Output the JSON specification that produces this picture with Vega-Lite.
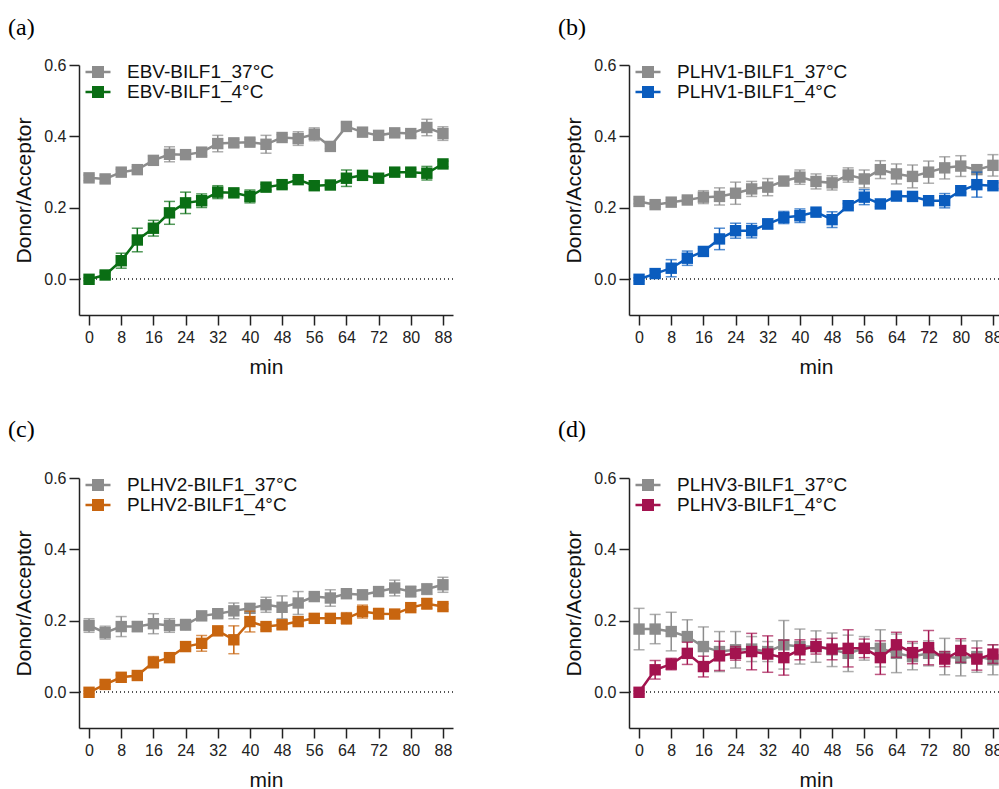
{
"$schema": "https://vega.github.io/schema/vega-lite/v6.json",
"padding": {"left": 8, "top": 16, "right": 0, "bottom": 0},
"background": "white",
"config": {
  "view": {"stroke": null},
  "axis": {"grid": false, "domainColor": "#222", "domainWidth": 1.5, "tickColor": "#222", "tickWidth": 1.5, "tickSize": 10,
    "labelFont": "Liberation Sans", "labelFontSize": 16, "labelColor": "#222", "labelFlush": false, "labelOverlap": false,
    "titleFont": "Liberation Sans", "titleFontSize": 21, "titleFontWeight": "normal", "titleColor": "#111"},
  "legend": {"labelLimit": 400, "symbolOpacity": 1}
},
"datasets": {
  "a": [
    {"t":0,"v":0.284,"e":0.008,"s":"EBV-BILF1_37°C","k":"37"},{"t":4,"v":0.281,"e":0.010,"s":"EBV-BILF1_37°C","k":"37"},{"t":8,"v":0.300,"e":0.008,"s":"EBV-BILF1_37°C","k":"37"},{"t":12,"v":0.307,"e":0.008,"s":"EBV-BILF1_37°C","k":"37"},{"t":16,"v":0.333,"e":0.012,"s":"EBV-BILF1_37°C","k":"37"},{"t":20,"v":0.350,"e":0.021,"s":"EBV-BILF1_37°C","k":"37"},{"t":24,"v":0.349,"e":0.008,"s":"EBV-BILF1_37°C","k":"37"},{"t":28,"v":0.356,"e":0.010,"s":"EBV-BILF1_37°C","k":"37"},{"t":32,"v":0.380,"e":0.023,"s":"EBV-BILF1_37°C","k":"37"},{"t":36,"v":0.382,"e":0.010,"s":"EBV-BILF1_37°C","k":"37"},{"t":40,"v":0.384,"e":0.008,"s":"EBV-BILF1_37°C","k":"37"},{"t":44,"v":0.378,"e":0.025,"s":"EBV-BILF1_37°C","k":"37"},{"t":48,"v":0.397,"e":0.008,"s":"EBV-BILF1_37°C","k":"37"},{"t":52,"v":0.394,"e":0.019,"s":"EBV-BILF1_37°C","k":"37"},{"t":56,"v":0.406,"e":0.018,"s":"EBV-BILF1_37°C","k":"37"},{"t":60,"v":0.372,"e":0.006,"s":"EBV-BILF1_37°C","k":"37"},{"t":64,"v":0.428,"e":0.010,"s":"EBV-BILF1_37°C","k":"37"},{"t":68,"v":0.412,"e":0.008,"s":"EBV-BILF1_37°C","k":"37"},{"t":72,"v":0.403,"e":0.008,"s":"EBV-BILF1_37°C","k":"37"},{"t":76,"v":0.410,"e":0.008,"s":"EBV-BILF1_37°C","k":"37"},{"t":80,"v":0.408,"e":0.008,"s":"EBV-BILF1_37°C","k":"37"},{"t":84,"v":0.425,"e":0.023,"s":"EBV-BILF1_37°C","k":"37"},{"t":88,"v":0.408,"e":0.019,"s":"EBV-BILF1_37°C","k":"37"},
    {"t":0,"v":0.000,"e":0.004,"s":"EBV-BILF1_4°C","k":"4"},{"t":4,"v":0.012,"e":0.008,"s":"EBV-BILF1_4°C","k":"4"},{"t":8,"v":0.052,"e":0.021,"s":"EBV-BILF1_4°C","k":"4"},{"t":12,"v":0.110,"e":0.033,"s":"EBV-BILF1_4°C","k":"4"},{"t":16,"v":0.143,"e":0.022,"s":"EBV-BILF1_4°C","k":"4"},{"t":20,"v":0.186,"e":0.032,"s":"EBV-BILF1_4°C","k":"4"},{"t":24,"v":0.214,"e":0.030,"s":"EBV-BILF1_4°C","k":"4"},{"t":28,"v":0.220,"e":0.019,"s":"EBV-BILF1_4°C","k":"4"},{"t":32,"v":0.244,"e":0.018,"s":"EBV-BILF1_4°C","k":"4"},{"t":36,"v":0.242,"e":0.010,"s":"EBV-BILF1_4°C","k":"4"},{"t":40,"v":0.232,"e":0.018,"s":"EBV-BILF1_4°C","k":"4"},{"t":44,"v":0.258,"e":0.008,"s":"EBV-BILF1_4°C","k":"4"},{"t":48,"v":0.265,"e":0.010,"s":"EBV-BILF1_4°C","k":"4"},{"t":52,"v":0.279,"e":0.008,"s":"EBV-BILF1_4°C","k":"4"},{"t":56,"v":0.262,"e":0.010,"s":"EBV-BILF1_4°C","k":"4"},{"t":60,"v":0.264,"e":0.008,"s":"EBV-BILF1_4°C","k":"4"},{"t":64,"v":0.283,"e":0.023,"s":"EBV-BILF1_4°C","k":"4"},{"t":68,"v":0.291,"e":0.012,"s":"EBV-BILF1_4°C","k":"4"},{"t":72,"v":0.283,"e":0.008,"s":"EBV-BILF1_4°C","k":"4"},{"t":76,"v":0.300,"e":0.010,"s":"EBV-BILF1_4°C","k":"4"},{"t":80,"v":0.300,"e":0.008,"s":"EBV-BILF1_4°C","k":"4"},{"t":84,"v":0.297,"e":0.019,"s":"EBV-BILF1_4°C","k":"4"},{"t":88,"v":0.323,"e":0.008,"s":"EBV-BILF1_4°C","k":"4"}
  ],
  "b": [
    {"t":0,"v":0.218,"e":0.006,"s":"PLHV1-BILF1_37°C","k":"37"},{"t":4,"v":0.209,"e":0.006,"s":"PLHV1-BILF1_37°C","k":"37"},{"t":8,"v":0.216,"e":0.006,"s":"PLHV1-BILF1_37°C","k":"37"},{"t":12,"v":0.222,"e":0.008,"s":"PLHV1-BILF1_37°C","k":"37"},{"t":16,"v":0.230,"e":0.018,"s":"PLHV1-BILF1_37°C","k":"37"},{"t":20,"v":0.232,"e":0.024,"s":"PLHV1-BILF1_37°C","k":"37"},{"t":24,"v":0.241,"e":0.031,"s":"PLHV1-BILF1_37°C","k":"37"},{"t":28,"v":0.253,"e":0.021,"s":"PLHV1-BILF1_37°C","k":"37"},{"t":32,"v":0.258,"e":0.024,"s":"PLHV1-BILF1_37°C","k":"37"},{"t":36,"v":0.275,"e":0.008,"s":"PLHV1-BILF1_37°C","k":"37"},{"t":40,"v":0.286,"e":0.020,"s":"PLHV1-BILF1_37°C","k":"37"},{"t":44,"v":0.274,"e":0.021,"s":"PLHV1-BILF1_37°C","k":"37"},{"t":48,"v":0.270,"e":0.020,"s":"PLHV1-BILF1_37°C","k":"37"},{"t":52,"v":0.292,"e":0.020,"s":"PLHV1-BILF1_37°C","k":"37"},{"t":56,"v":0.281,"e":0.025,"s":"PLHV1-BILF1_37°C","k":"37"},{"t":60,"v":0.307,"e":0.025,"s":"PLHV1-BILF1_37°C","k":"37"},{"t":64,"v":0.295,"e":0.028,"s":"PLHV1-BILF1_37°C","k":"37"},{"t":68,"v":0.288,"e":0.032,"s":"PLHV1-BILF1_37°C","k":"37"},{"t":72,"v":0.300,"e":0.031,"s":"PLHV1-BILF1_37°C","k":"37"},{"t":76,"v":0.312,"e":0.031,"s":"PLHV1-BILF1_37°C","k":"37"},{"t":80,"v":0.317,"e":0.029,"s":"PLHV1-BILF1_37°C","k":"37"},{"t":84,"v":0.307,"e":0.012,"s":"PLHV1-BILF1_37°C","k":"37"},{"t":88,"v":0.319,"e":0.030,"s":"PLHV1-BILF1_37°C","k":"37"},
    {"t":0,"v":0.000,"e":0.004,"s":"PLHV1-BILF1_4°C","k":"4"},{"t":4,"v":0.016,"e":0.008,"s":"PLHV1-BILF1_4°C","k":"4"},{"t":8,"v":0.031,"e":0.024,"s":"PLHV1-BILF1_4°C","k":"4"},{"t":12,"v":0.059,"e":0.020,"s":"PLHV1-BILF1_4°C","k":"4"},{"t":16,"v":0.078,"e":0.008,"s":"PLHV1-BILF1_4°C","k":"4"},{"t":20,"v":0.113,"e":0.030,"s":"PLHV1-BILF1_4°C","k":"4"},{"t":24,"v":0.136,"e":0.021,"s":"PLHV1-BILF1_4°C","k":"4"},{"t":28,"v":0.136,"e":0.020,"s":"PLHV1-BILF1_4°C","k":"4"},{"t":32,"v":0.155,"e":0.014,"s":"PLHV1-BILF1_4°C","k":"4"},{"t":36,"v":0.173,"e":0.017,"s":"PLHV1-BILF1_4°C","k":"4"},{"t":40,"v":0.178,"e":0.019,"s":"PLHV1-BILF1_4°C","k":"4"},{"t":44,"v":0.188,"e":0.008,"s":"PLHV1-BILF1_4°C","k":"4"},{"t":48,"v":0.167,"e":0.022,"s":"PLHV1-BILF1_4°C","k":"4"},{"t":52,"v":0.206,"e":0.006,"s":"PLHV1-BILF1_4°C","k":"4"},{"t":56,"v":0.230,"e":0.021,"s":"PLHV1-BILF1_4°C","k":"4"},{"t":60,"v":0.211,"e":0.008,"s":"PLHV1-BILF1_4°C","k":"4"},{"t":64,"v":0.233,"e":0.010,"s":"PLHV1-BILF1_4°C","k":"4"},{"t":68,"v":0.232,"e":0.010,"s":"PLHV1-BILF1_4°C","k":"4"},{"t":72,"v":0.220,"e":0.008,"s":"PLHV1-BILF1_4°C","k":"4"},{"t":76,"v":0.220,"e":0.020,"s":"PLHV1-BILF1_4°C","k":"4"},{"t":80,"v":0.248,"e":0.006,"s":"PLHV1-BILF1_4°C","k":"4"},{"t":84,"v":0.265,"e":0.035,"s":"PLHV1-BILF1_4°C","k":"4"},{"t":88,"v":0.262,"e":0.008,"s":"PLHV1-BILF1_4°C","k":"4"}
  ],
  "c": [
    {"t":0,"v":0.187,"e":0.019,"s":"PLHV2-BILF1_37°C","k":"37"},{"t":4,"v":0.167,"e":0.018,"s":"PLHV2-BILF1_37°C","k":"37"},{"t":8,"v":0.184,"e":0.028,"s":"PLHV2-BILF1_37°C","k":"37"},{"t":12,"v":0.184,"e":0.014,"s":"PLHV2-BILF1_37°C","k":"37"},{"t":16,"v":0.192,"e":0.028,"s":"PLHV2-BILF1_37°C","k":"37"},{"t":20,"v":0.187,"e":0.019,"s":"PLHV2-BILF1_37°C","k":"37"},{"t":24,"v":0.189,"e":0.015,"s":"PLHV2-BILF1_37°C","k":"37"},{"t":28,"v":0.214,"e":0.008,"s":"PLHV2-BILF1_37°C","k":"37"},{"t":32,"v":0.220,"e":0.008,"s":"PLHV2-BILF1_37°C","k":"37"},{"t":36,"v":0.228,"e":0.022,"s":"PLHV2-BILF1_37°C","k":"37"},{"t":40,"v":0.235,"e":0.013,"s":"PLHV2-BILF1_37°C","k":"37"},{"t":44,"v":0.245,"e":0.021,"s":"PLHV2-BILF1_37°C","k":"37"},{"t":48,"v":0.238,"e":0.032,"s":"PLHV2-BILF1_37°C","k":"37"},{"t":52,"v":0.250,"e":0.032,"s":"PLHV2-BILF1_37°C","k":"37"},{"t":56,"v":0.268,"e":0.008,"s":"PLHV2-BILF1_37°C","k":"37"},{"t":60,"v":0.264,"e":0.023,"s":"PLHV2-BILF1_37°C","k":"37"},{"t":64,"v":0.276,"e":0.010,"s":"PLHV2-BILF1_37°C","k":"37"},{"t":68,"v":0.273,"e":0.008,"s":"PLHV2-BILF1_37°C","k":"37"},{"t":72,"v":0.282,"e":0.008,"s":"PLHV2-BILF1_37°C","k":"37"},{"t":76,"v":0.292,"e":0.022,"s":"PLHV2-BILF1_37°C","k":"37"},{"t":80,"v":0.282,"e":0.015,"s":"PLHV2-BILF1_37°C","k":"37"},{"t":84,"v":0.289,"e":0.015,"s":"PLHV2-BILF1_37°C","k":"37"},{"t":88,"v":0.301,"e":0.021,"s":"PLHV2-BILF1_37°C","k":"37"},
    {"t":0,"v":0.000,"e":0.004,"s":"PLHV2-BILF1_4°C","k":"4"},{"t":4,"v":0.022,"e":0.006,"s":"PLHV2-BILF1_4°C","k":"4"},{"t":8,"v":0.042,"e":0.006,"s":"PLHV2-BILF1_4°C","k":"4"},{"t":12,"v":0.047,"e":0.006,"s":"PLHV2-BILF1_4°C","k":"4"},{"t":16,"v":0.084,"e":0.016,"s":"PLHV2-BILF1_4°C","k":"4"},{"t":20,"v":0.097,"e":0.010,"s":"PLHV2-BILF1_4°C","k":"4"},{"t":24,"v":0.128,"e":0.008,"s":"PLHV2-BILF1_4°C","k":"4"},{"t":28,"v":0.137,"e":0.022,"s":"PLHV2-BILF1_4°C","k":"4"},{"t":32,"v":0.172,"e":0.010,"s":"PLHV2-BILF1_4°C","k":"4"},{"t":36,"v":0.147,"e":0.039,"s":"PLHV2-BILF1_4°C","k":"4"},{"t":40,"v":0.198,"e":0.029,"s":"PLHV2-BILF1_4°C","k":"4"},{"t":44,"v":0.184,"e":0.008,"s":"PLHV2-BILF1_4°C","k":"4"},{"t":48,"v":0.189,"e":0.010,"s":"PLHV2-BILF1_4°C","k":"4"},{"t":52,"v":0.198,"e":0.008,"s":"PLHV2-BILF1_4°C","k":"4"},{"t":56,"v":0.207,"e":0.006,"s":"PLHV2-BILF1_4°C","k":"4"},{"t":60,"v":0.207,"e":0.008,"s":"PLHV2-BILF1_4°C","k":"4"},{"t":64,"v":0.207,"e":0.016,"s":"PLHV2-BILF1_4°C","k":"4"},{"t":68,"v":0.226,"e":0.018,"s":"PLHV2-BILF1_4°C","k":"4"},{"t":72,"v":0.220,"e":0.015,"s":"PLHV2-BILF1_4°C","k":"4"},{"t":76,"v":0.219,"e":0.008,"s":"PLHV2-BILF1_4°C","k":"4"},{"t":80,"v":0.237,"e":0.006,"s":"PLHV2-BILF1_4°C","k":"4"},{"t":84,"v":0.248,"e":0.015,"s":"PLHV2-BILF1_4°C","k":"4"},{"t":88,"v":0.240,"e":0.008,"s":"PLHV2-BILF1_4°C","k":"4"}
  ],
  "d": [
    {"t":0,"v":0.177,"e":0.058,"s":"PLHV3-BILF1_37°C","k":"37"},{"t":4,"v":0.177,"e":0.041,"s":"PLHV3-BILF1_37°C","k":"37"},{"t":8,"v":0.170,"e":0.054,"s":"PLHV3-BILF1_37°C","k":"37"},{"t":12,"v":0.156,"e":0.047,"s":"PLHV3-BILF1_37°C","k":"37"},{"t":16,"v":0.128,"e":0.055,"s":"PLHV3-BILF1_37°C","k":"37"},{"t":20,"v":0.114,"e":0.056,"s":"PLHV3-BILF1_37°C","k":"37"},{"t":24,"v":0.119,"e":0.051,"s":"PLHV3-BILF1_37°C","k":"37"},{"t":28,"v":0.121,"e":0.035,"s":"PLHV3-BILF1_37°C","k":"37"},{"t":32,"v":0.114,"e":0.028,"s":"PLHV3-BILF1_37°C","k":"37"},{"t":36,"v":0.133,"e":0.068,"s":"PLHV3-BILF1_37°C","k":"37"},{"t":40,"v":0.128,"e":0.049,"s":"PLHV3-BILF1_37°C","k":"37"},{"t":44,"v":0.128,"e":0.044,"s":"PLHV3-BILF1_37°C","k":"37"},{"t":48,"v":0.119,"e":0.047,"s":"PLHV3-BILF1_37°C","k":"37"},{"t":52,"v":0.109,"e":0.051,"s":"PLHV3-BILF1_37°C","k":"37"},{"t":56,"v":0.123,"e":0.033,"s":"PLHV3-BILF1_37°C","k":"37"},{"t":60,"v":0.123,"e":0.052,"s":"PLHV3-BILF1_37°C","k":"37"},{"t":64,"v":0.109,"e":0.054,"s":"PLHV3-BILF1_37°C","k":"37"},{"t":68,"v":0.100,"e":0.037,"s":"PLHV3-BILF1_37°C","k":"37"},{"t":72,"v":0.109,"e":0.035,"s":"PLHV3-BILF1_37°C","k":"37"},{"t":76,"v":0.100,"e":0.051,"s":"PLHV3-BILF1_37°C","k":"37"},{"t":80,"v":0.095,"e":0.049,"s":"PLHV3-BILF1_37°C","k":"37"},{"t":84,"v":0.100,"e":0.044,"s":"PLHV3-BILF1_37°C","k":"37"},{"t":88,"v":0.091,"e":0.042,"s":"PLHV3-BILF1_37°C","k":"37"},
    {"t":0,"v":0.000,"e":0.004,"s":"PLHV3-BILF1_4°C","k":"4"},{"t":4,"v":0.063,"e":0.026,"s":"PLHV3-BILF1_4°C","k":"4"},{"t":8,"v":0.079,"e":0.016,"s":"PLHV3-BILF1_4°C","k":"4"},{"t":12,"v":0.109,"e":0.031,"s":"PLHV3-BILF1_4°C","k":"4"},{"t":16,"v":0.072,"e":0.029,"s":"PLHV3-BILF1_4°C","k":"4"},{"t":20,"v":0.102,"e":0.041,"s":"PLHV3-BILF1_4°C","k":"4"},{"t":24,"v":0.109,"e":0.019,"s":"PLHV3-BILF1_4°C","k":"4"},{"t":28,"v":0.114,"e":0.051,"s":"PLHV3-BILF1_4°C","k":"4"},{"t":32,"v":0.107,"e":0.051,"s":"PLHV3-BILF1_4°C","k":"4"},{"t":36,"v":0.097,"e":0.049,"s":"PLHV3-BILF1_4°C","k":"4"},{"t":40,"v":0.119,"e":0.028,"s":"PLHV3-BILF1_4°C","k":"4"},{"t":44,"v":0.128,"e":0.021,"s":"PLHV3-BILF1_4°C","k":"4"},{"t":48,"v":0.121,"e":0.030,"s":"PLHV3-BILF1_4°C","k":"4"},{"t":52,"v":0.123,"e":0.052,"s":"PLHV3-BILF1_4°C","k":"4"},{"t":56,"v":0.123,"e":0.026,"s":"PLHV3-BILF1_4°C","k":"4"},{"t":60,"v":0.097,"e":0.047,"s":"PLHV3-BILF1_4°C","k":"4"},{"t":64,"v":0.133,"e":0.035,"s":"PLHV3-BILF1_4°C","k":"4"},{"t":68,"v":0.111,"e":0.031,"s":"PLHV3-BILF1_4°C","k":"4"},{"t":72,"v":0.125,"e":0.048,"s":"PLHV3-BILF1_4°C","k":"4"},{"t":76,"v":0.093,"e":0.021,"s":"PLHV3-BILF1_4°C","k":"4"},{"t":80,"v":0.117,"e":0.033,"s":"PLHV3-BILF1_4°C","k":"4"},{"t":84,"v":0.093,"e":0.031,"s":"PLHV3-BILF1_4°C","k":"4"},{"t":88,"v":0.107,"e":0.026,"s":"PLHV3-BILF1_4°C","k":"4"}
  ]
},
"columns": 2,
"bounds": "flush",
"spacing": {"column": 176, "row": 163},
"resolve": {"scale": {"color": "independent"}, "legend": {"color": "independent"}},
"concat": [
  {
    "width": 374, "height": 250,
    "title": {"text": "(a)", "anchor": "start", "frame": "group", "dx": -71, "offset": -2, "baseline": "alphabetic", "font": "Liberation Serif", "fontSize": 24, "fontWeight": "normal", "color": "#000"},
    "data": {"name": "a"},
    "layer": [
      {"mark": {"type": "rule", "strokeDash": [1, 3], "color": "#555", "strokeWidth": 1},
       "encoding": {"y": {"datum": 0, "type": "quantitative", "scale": {"domain": [-0.1, 0.6], "nice": false, "zero": false}, "axis": {"values": [0, 0.2, 0.4, 0.6], "format": ".1f", "title": "Donor/Acceptor", "labelPadding": 3, "titlePadding": 9}}}},
      {"transform": [{"filter": {"field": "k", "equal": "37"}}],
       "encoding": {
         "x": {"field": "t", "type": "quantitative", "scale": {"domain": [-2.5, 90.5], "nice": false, "zero": false}, "axis": {"values": [0,8,16,24,32,40,48,56,64,72,80,88], "title": "min", "labelPadding": 4, "titlePadding": 11}},
         "y": {"field": "v", "type": "quantitative", "scale": {"domain": [-0.1, 0.6], "nice": false, "zero": false}, "axis": {"values": [0, 0.2, 0.4, 0.6], "format": ".1f", "title": "Donor/Acceptor", "labelPadding": 3, "titlePadding": 9}},
         "color": {"field": "s", "type": "nominal", "scale": {"domain": ["EBV-BILF1_37°C", "EBV-BILF1_4°C"], "range": ["#8c8c8c", "#0a6e14"]},
           "legend": {"title": null, "orient": "none", "legendX": 9, "legendY": -3, "symbolType": "M-1.25,-0.125H1.25V0.125H-1.25Z M-0.6,-0.6H0.6V0.6H-0.6Z", "symbolSize": 400, "symbolStrokeWidth": 0, "labelFont": "Liberation Sans", "labelFontSize": 19, "labelOffset": 19, "rowPadding": 0, "labelColor": "#111"}}
       },
       "layer": [
         {"mark": {"type": "errorbar", "ticks": {"size": 11}, "thickness": 1.5}, "encoding": {"yError": {"field": "e"}}},
         {"mark": {"type": "line", "strokeWidth": 2.5}},
         {"mark": {"type": "point", "shape": "square", "filled": true, "size": 130, "opacity": 1}}
       ]},
      {"transform": [{"filter": {"field": "k", "equal": "4"}}],
       "encoding": {
         "x": {"field": "t", "type": "quantitative", "scale": {"domain": [-2.5, 90.5], "nice": false, "zero": false}, "axis": {"values": [0,8,16,24,32,40,48,56,64,72,80,88], "title": "min", "labelPadding": 4, "titlePadding": 11}},
         "y": {"field": "v", "type": "quantitative", "scale": {"domain": [-0.1, 0.6], "nice": false, "zero": false}, "axis": {"values": [0, 0.2, 0.4, 0.6], "format": ".1f", "title": "Donor/Acceptor", "labelPadding": 3, "titlePadding": 9}},
         "color": {"field": "s", "type": "nominal", "scale": {"domain": ["EBV-BILF1_37°C", "EBV-BILF1_4°C"], "range": ["#8c8c8c", "#0a6e14"]},
           "legend": {"title": null, "orient": "none", "legendX": 9, "legendY": -3, "symbolType": "M-1.25,-0.125H1.25V0.125H-1.25Z M-0.6,-0.6H0.6V0.6H-0.6Z", "symbolSize": 400, "symbolStrokeWidth": 0, "labelFont": "Liberation Sans", "labelFontSize": 19, "labelOffset": 19, "rowPadding": 0, "labelColor": "#111"}}
       },
       "layer": [
         {"mark": {"type": "errorbar", "ticks": {"size": 11}, "thickness": 1.5}, "encoding": {"yError": {"field": "e"}}},
         {"mark": {"type": "line", "strokeWidth": 2.5}},
         {"mark": {"type": "point", "shape": "square", "filled": true, "size": 130, "opacity": 1}}
       ]}
    ]
  },
  {
    "width": 374, "height": 250,
    "title": {"text": "(b)", "anchor": "start", "frame": "group", "dx": -71, "offset": -2, "baseline": "alphabetic", "font": "Liberation Serif", "fontSize": 24, "fontWeight": "normal", "color": "#000"},
    "data": {"name": "b"},
    "layer": [
      {"mark": {"type": "rule", "strokeDash": [1, 3], "color": "#555", "strokeWidth": 1},
       "encoding": {"y": {"datum": 0, "type": "quantitative", "scale": {"domain": [-0.1, 0.6], "nice": false, "zero": false}, "axis": {"values": [0, 0.2, 0.4, 0.6], "format": ".1f", "title": "Donor/Acceptor", "labelPadding": 3, "titlePadding": 9}}}},
      {"transform": [{"filter": {"field": "k", "equal": "37"}}],
       "encoding": {
         "x": {"field": "t", "type": "quantitative", "scale": {"domain": [-2.5, 90.5], "nice": false, "zero": false}, "axis": {"values": [0,8,16,24,32,40,48,56,64,72,80,88], "title": "min", "labelPadding": 4, "titlePadding": 11}},
         "y": {"field": "v", "type": "quantitative", "scale": {"domain": [-0.1, 0.6], "nice": false, "zero": false}, "axis": {"values": [0, 0.2, 0.4, 0.6], "format": ".1f", "title": "Donor/Acceptor", "labelPadding": 3, "titlePadding": 9}},
         "color": {"field": "s", "type": "nominal", "scale": {"domain": ["PLHV1-BILF1_37°C", "PLHV1-BILF1_4°C"], "range": ["#8c8c8c", "#0a5cbe"]},
           "legend": {"title": null, "orient": "none", "legendX": 9, "legendY": -3, "symbolType": "M-1.25,-0.125H1.25V0.125H-1.25Z M-0.6,-0.6H0.6V0.6H-0.6Z", "symbolSize": 400, "symbolStrokeWidth": 0, "labelFont": "Liberation Sans", "labelFontSize": 19, "labelOffset": 19, "rowPadding": 0, "labelColor": "#111"}}
       },
       "layer": [
         {"mark": {"type": "errorbar", "ticks": {"size": 11}, "thickness": 1.5}, "encoding": {"yError": {"field": "e"}}},
         {"mark": {"type": "line", "strokeWidth": 2.5}},
         {"mark": {"type": "point", "shape": "square", "filled": true, "size": 130, "opacity": 1}}
       ]},
      {"transform": [{"filter": {"field": "k", "equal": "4"}}],
       "encoding": {
         "x": {"field": "t", "type": "quantitative", "scale": {"domain": [-2.5, 90.5], "nice": false, "zero": false}, "axis": {"values": [0,8,16,24,32,40,48,56,64,72,80,88], "title": "min", "labelPadding": 4, "titlePadding": 11}},
         "y": {"field": "v", "type": "quantitative", "scale": {"domain": [-0.1, 0.6], "nice": false, "zero": false}, "axis": {"values": [0, 0.2, 0.4, 0.6], "format": ".1f", "title": "Donor/Acceptor", "labelPadding": 3, "titlePadding": 9}},
         "color": {"field": "s", "type": "nominal", "scale": {"domain": ["PLHV1-BILF1_37°C", "PLHV1-BILF1_4°C"], "range": ["#8c8c8c", "#0a5cbe"]},
           "legend": {"title": null, "orient": "none", "legendX": 9, "legendY": -3, "symbolType": "M-1.25,-0.125H1.25V0.125H-1.25Z M-0.6,-0.6H0.6V0.6H-0.6Z", "symbolSize": 400, "symbolStrokeWidth": 0, "labelFont": "Liberation Sans", "labelFontSize": 19, "labelOffset": 19, "rowPadding": 0, "labelColor": "#111"}}
       },
       "layer": [
         {"mark": {"type": "errorbar", "ticks": {"size": 11}, "thickness": 1.5}, "encoding": {"yError": {"field": "e"}}},
         {"mark": {"type": "line", "strokeWidth": 2.5}},
         {"mark": {"type": "point", "shape": "square", "filled": true, "size": 130, "opacity": 1}}
       ]}
    ]
  },
  {
    "width": 374, "height": 250,
    "title": {"text": "(c)", "anchor": "start", "frame": "group", "dx": -71, "offset": 9, "baseline": "alphabetic", "font": "Liberation Serif", "fontSize": 24, "fontWeight": "normal", "color": "#000"},
    "data": {"name": "c"},
    "layer": [
      {"mark": {"type": "rule", "strokeDash": [1, 3], "color": "#555", "strokeWidth": 1},
       "encoding": {"y": {"datum": 0, "type": "quantitative", "scale": {"domain": [-0.1, 0.6], "nice": false, "zero": false}, "axis": {"values": [0, 0.2, 0.4, 0.6], "format": ".1f", "title": "Donor/Acceptor", "labelPadding": 3, "titlePadding": 9}}}},
      {"transform": [{"filter": {"field": "k", "equal": "37"}}],
       "encoding": {
         "x": {"field": "t", "type": "quantitative", "scale": {"domain": [-2.5, 90.5], "nice": false, "zero": false}, "axis": {"values": [0,8,16,24,32,40,48,56,64,72,80,88], "title": "min", "labelPadding": 4, "titlePadding": 11}},
         "y": {"field": "v", "type": "quantitative", "scale": {"domain": [-0.1, 0.6], "nice": false, "zero": false}, "axis": {"values": [0, 0.2, 0.4, 0.6], "format": ".1f", "title": "Donor/Acceptor", "labelPadding": 3, "titlePadding": 9}},
         "color": {"field": "s", "type": "nominal", "scale": {"domain": ["PLHV2-BILF1_37°C", "PLHV2-BILF1_4°C"], "range": ["#8c8c8c", "#c8650f"]},
           "legend": {"title": null, "orient": "none", "legendX": 9, "legendY": -3, "symbolType": "M-1.25,-0.125H1.25V0.125H-1.25Z M-0.6,-0.6H0.6V0.6H-0.6Z", "symbolSize": 400, "symbolStrokeWidth": 0, "labelFont": "Liberation Sans", "labelFontSize": 19, "labelOffset": 19, "rowPadding": 0, "labelColor": "#111"}}
       },
       "layer": [
         {"mark": {"type": "errorbar", "ticks": {"size": 11}, "thickness": 1.5}, "encoding": {"yError": {"field": "e"}}},
         {"mark": {"type": "line", "strokeWidth": 2.5}},
         {"mark": {"type": "point", "shape": "square", "filled": true, "size": 130, "opacity": 1}}
       ]},
      {"transform": [{"filter": {"field": "k", "equal": "4"}}],
       "encoding": {
         "x": {"field": "t", "type": "quantitative", "scale": {"domain": [-2.5, 90.5], "nice": false, "zero": false}, "axis": {"values": [0,8,16,24,32,40,48,56,64,72,80,88], "title": "min", "labelPadding": 4, "titlePadding": 11}},
         "y": {"field": "v", "type": "quantitative", "scale": {"domain": [-0.1, 0.6], "nice": false, "zero": false}, "axis": {"values": [0, 0.2, 0.4, 0.6], "format": ".1f", "title": "Donor/Acceptor", "labelPadding": 3, "titlePadding": 9}},
         "color": {"field": "s", "type": "nominal", "scale": {"domain": ["PLHV2-BILF1_37°C", "PLHV2-BILF1_4°C"], "range": ["#8c8c8c", "#c8650f"]},
           "legend": {"title": null, "orient": "none", "legendX": 9, "legendY": -3, "symbolType": "M-1.25,-0.125H1.25V0.125H-1.25Z M-0.6,-0.6H0.6V0.6H-0.6Z", "symbolSize": 400, "symbolStrokeWidth": 0, "labelFont": "Liberation Sans", "labelFontSize": 19, "labelOffset": 19, "rowPadding": 0, "labelColor": "#111"}}
       },
       "layer": [
         {"mark": {"type": "errorbar", "ticks": {"size": 11}, "thickness": 1.5}, "encoding": {"yError": {"field": "e"}}},
         {"mark": {"type": "line", "strokeWidth": 2.5}},
         {"mark": {"type": "point", "shape": "square", "filled": true, "size": 130, "opacity": 1}}
       ]}
    ]
  },
  {
    "width": 374, "height": 250,
    "title": {"text": "(d)", "anchor": "start", "frame": "group", "dx": -71, "offset": 9, "baseline": "alphabetic", "font": "Liberation Serif", "fontSize": 24, "fontWeight": "normal", "color": "#000"},
    "data": {"name": "d"},
    "layer": [
      {"mark": {"type": "rule", "strokeDash": [1, 3], "color": "#555", "strokeWidth": 1},
       "encoding": {"y": {"datum": 0, "type": "quantitative", "scale": {"domain": [-0.1, 0.6], "nice": false, "zero": false}, "axis": {"values": [0, 0.2, 0.4, 0.6], "format": ".1f", "title": "Donor/Acceptor", "labelPadding": 3, "titlePadding": 9}}}},
      {"transform": [{"filter": {"field": "k", "equal": "37"}}],
       "encoding": {
         "x": {"field": "t", "type": "quantitative", "scale": {"domain": [-2.5, 90.5], "nice": false, "zero": false}, "axis": {"values": [0,8,16,24,32,40,48,56,64,72,80,88], "title": "min", "labelPadding": 4, "titlePadding": 11}},
         "y": {"field": "v", "type": "quantitative", "scale": {"domain": [-0.1, 0.6], "nice": false, "zero": false}, "axis": {"values": [0, 0.2, 0.4, 0.6], "format": ".1f", "title": "Donor/Acceptor", "labelPadding": 3, "titlePadding": 9}},
         "color": {"field": "s", "type": "nominal", "scale": {"domain": ["PLHV3-BILF1_37°C", "PLHV3-BILF1_4°C"], "range": ["#8c8c8c", "#a3134f"]},
           "legend": {"title": null, "orient": "none", "legendX": 9, "legendY": -3, "symbolType": "M-1.25,-0.125H1.25V0.125H-1.25Z M-0.6,-0.6H0.6V0.6H-0.6Z", "symbolSize": 400, "symbolStrokeWidth": 0, "labelFont": "Liberation Sans", "labelFontSize": 19, "labelOffset": 19, "rowPadding": 0, "labelColor": "#111"}}
       },
       "layer": [
         {"mark": {"type": "errorbar", "ticks": {"size": 11}, "thickness": 1.5}, "encoding": {"yError": {"field": "e"}}},
         {"mark": {"type": "line", "strokeWidth": 2.5}},
         {"mark": {"type": "point", "shape": "square", "filled": true, "size": 130, "opacity": 1}}
       ]},
      {"transform": [{"filter": {"field": "k", "equal": "4"}}],
       "encoding": {
         "x": {"field": "t", "type": "quantitative", "scale": {"domain": [-2.5, 90.5], "nice": false, "zero": false}, "axis": {"values": [0,8,16,24,32,40,48,56,64,72,80,88], "title": "min", "labelPadding": 4, "titlePadding": 11}},
         "y": {"field": "v", "type": "quantitative", "scale": {"domain": [-0.1, 0.6], "nice": false, "zero": false}, "axis": {"values": [0, 0.2, 0.4, 0.6], "format": ".1f", "title": "Donor/Acceptor", "labelPadding": 3, "titlePadding": 9}},
         "color": {"field": "s", "type": "nominal", "scale": {"domain": ["PLHV3-BILF1_37°C", "PLHV3-BILF1_4°C"], "range": ["#8c8c8c", "#a3134f"]},
           "legend": {"title": null, "orient": "none", "legendX": 9, "legendY": -3, "symbolType": "M-1.25,-0.125H1.25V0.125H-1.25Z M-0.6,-0.6H0.6V0.6H-0.6Z", "symbolSize": 400, "symbolStrokeWidth": 0, "labelFont": "Liberation Sans", "labelFontSize": 19, "labelOffset": 19, "rowPadding": 0, "labelColor": "#111"}}
       },
       "layer": [
         {"mark": {"type": "errorbar", "ticks": {"size": 11}, "thickness": 1.5}, "encoding": {"yError": {"field": "e"}}},
         {"mark": {"type": "line", "strokeWidth": 2.5}},
         {"mark": {"type": "point", "shape": "square", "filled": true, "size": 130, "opacity": 1}}
       ]}
    ]
  }
]
}
